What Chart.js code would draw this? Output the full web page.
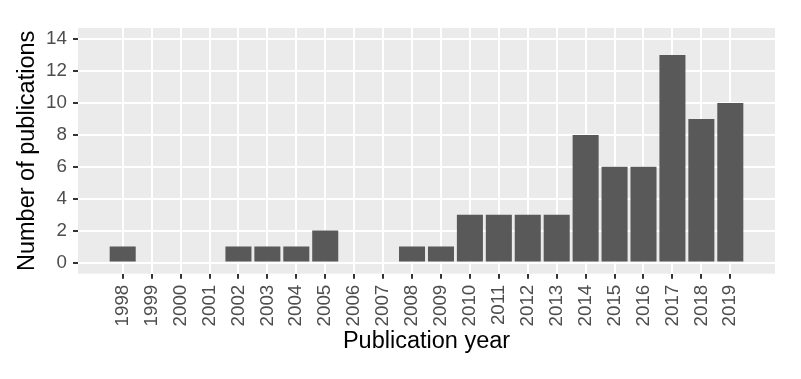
<!DOCTYPE html>
<html>
<head>
<meta charset="utf-8">
<script src="https://cdn.jsdelivr.net/npm/chart.js@4/dist/chart.umd.min.js"></script>
<style>
  html, body { margin: 0; padding: 0; background: #fff; }
  canvas { display: block; }
</style>
</head>
<body>
<canvas id="pubChart" width="801" height="379"></canvas>
<script>
// publication counts per year
const years = [1998, 1999, 2000, 2001, 2002, 2003, 2004, 2005, 2006, 2007, 2008,
               2009, 2010, 2011, 2012, 2013, 2014, 2015, 2016, 2017, 2018, 2019];
const counts = [1, 0, 0, 0, 1, 1, 1, 2, 0, 0, 1,
                1, 3, 3, 3, 3, 8, 6, 6, 13, 9, 10];
const yTicks = [0, 2, 4, 6, 8, 10, 12, 14];

const tickFont = { family: "'Liberation Sans', Arial, sans-serif", size: 18.8 };
const titleFont = { family: "'Liberation Sans', Arial, sans-serif", size: 23.5 };

// fondo gris tipo ggplot
const panelBg = {
    id: "panelBg",
    beforeDraw: function(chart) {
        const a = chart.chartArea;
        const ctx = chart.ctx;
        ctx.save();
        ctx.fillStyle = "#EBEBEB";
        ctx.fillRect(a.left, a.top, a.right - a.left, a.bottom - a.top);
        ctx.restore();
    }
};

const ctx = document.getElementById("pubChart").getContext("2d");

new Chart(ctx, {
    type: "bar",
    data: {
        datasets: [{
            data: years.map((yr, i) => ({ x: yr, y: counts[i] })),
            backgroundColor: "#595959",
            borderWidth: 0,
            barPercentage: 0.9,
            categoryPercentage: 1.0
        }]
    },
    options: {
        responsive: false,
        animation: false,
        layout: { padding: { top: 28, right: 26, left: 0, bottom: 0 } },
        plugins: {
            legend: { display: false },
            tooltip: { enabled: false }
        },
        scales: {
            x: {
                type: "linear",
                min: 1996.455,
                max: 2020.545,
                offset: false,
                afterBuildTicks: function(scale) {
                    scale.ticks = years.map(v => ({ value: v }));
                },
                afterFit: function(scale) { scale.height = 105.3; },
                grid: {
                    offset: false,
                    color: "#FFFFFF",
                    lineWidth: 2,
                    tickColor: "#333333",
                    tickWidth: 2,
                    tickLength: 5
                },
                border: { display: false },
                ticks: {
                    autoSkip: false,
                    minRotation: 90,
                    maxRotation: 90,
                    padding: 6,
                    color: "#4D4D4D",
                    font: tickFont,
                    callback: v => String(v)
                },
                title: {
                    display: true,
                    text: "Publication year",
                    color: "#000000",
                    font: titleFont,
                    padding: { top: 0, bottom: 23 }
                }
            },
            y: {
                min: -0.7,
                max: 14.7,
                afterBuildTicks: function(scale) {
                    scale.ticks = yTicks.map(v => ({ value: v }));
                },
                afterFit: function(scale) { scale.width = 78; },
                grid: {
                    color: "#FFFFFF",
                    lineWidth: 2,
                    tickColor: "#333333",
                    tickWidth: 2,
                    tickLength: 5
                },
                border: { display: false },
                ticks: {
                    padding: 6,
                    color: "#4D4D4D",
                    font: tickFont,
                    callback: v => String(v)
                },
                title: {
                    display: true,
                    text: "Number of publications",
                    color: "#000000",
                    font: titleFont,
                    padding: { top: 13, bottom: 0 }
                }
            }
        }
    },
    plugins: [panelBg]
});
</script>
</body>
</html>
